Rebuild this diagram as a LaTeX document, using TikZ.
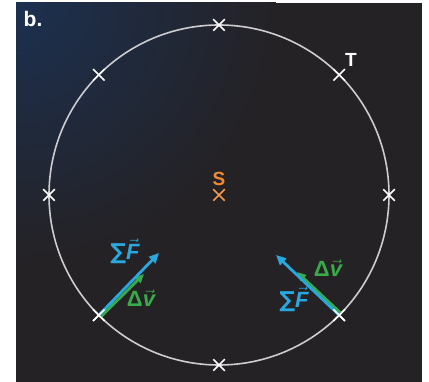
\documentclass[tikz,border=0pt]{standalone}
\usepackage{amsmath}
\usepackage{fontspec}
\setmainfont{Liberation Sans}
\setsansfont{Liberation Sans}
\newfontfamily\symfont{DejaVu Sans}
\usetikzlibrary{shapes.misc, arrows.meta, positioning, calc}
\definecolor{bgDark}{RGB}{36,34,37}
\definecolor{bgNavy}{RGB}{28,48,80}
\definecolor{ringGray}{RGB}{205,205,208}
\definecolor{forceBlue}{RGB}{41,168,224}
\definecolor{dvGreen}{RGB}{58,170,74}
\definecolor{sunOrange}{RGB}{240,138,48}
\newcommand{\netforce}{{\symfont ∑}$\vec{\text{\itshape F}}$}
\newcommand{\deltav}{Δ$\vec{\text{\itshape v}}$}

\begin{document}
\begin{tikzpicture}[
  x=1pt, y=-1pt,
  crossmark/.style={cross out, draw=white, minimum size=10pt, inner sep=0pt, line width=1.5pt},
  label/.style={font=\sffamily\bfseries\fontsize{19}{19}\selectfont},
  vlabel/.style={font=\sffamily\bfseries\fontsize{22}{22}\selectfont, inner sep=1pt},
  force/.style={line width=2.8pt, forceBlue, -{Triangle[length=10pt, width=9pt]}},
  dv/.style={line width=2.8pt, dvGreen, -{Triangle[length=9pt, width=8pt]}}
]
\useasboundingbox (0,0) rectangle (429,382);

% Background
\fill[bgDark] (16,3) rectangle (422,382);
\begin{scope}
  \clip (16,3) rectangle (422,382);
  \shade[inner color=bgNavy, outer color=bgDark] (16,3) circle (260);
\end{scope}

% Orbit
\coordinate (c) at (219,195);
\draw[ringGray, line width=1.6pt] (c) circle (170);
\foreach \a in {0,45,...,315}
  \node[crossmark] (p\a) at ($(c)+(\a:170)$) {};

% Star
\node[crossmark, draw=sunOrange!85!white] (s) at (c) {};
\node[label, text=sunOrange, above=0pt of s] {S};
\node[label, text=white] at (351,60) {T};
\node[font=\sffamily\bfseries\fontsize{21}{21}\selectfont, text=white] at (33,19) {b.};

% Vectors, left
\coordinate (fL) at (159,253);
\coordinate (vL) at (144,274);
\draw[dv] ($(p135.center)+(1.8,1.8)$) -- (vL);
\draw[force] (p135.center) -- (fL);
\node[vlabel, text=forceBlue] at (125,251) {\netforce};
\node[vlabel, text=dvGreen] at (141,298) {\deltav};

% Vectors, right
\coordinate (fR) at (276,255);
\coordinate (vR) at (297,272);
\draw[dv] ($(p45.center)+(1.8,-1.8)$) -- (vR);
\draw[force] (p45.center) -- (fR);
\node[vlabel, text=forceBlue] at (294,299) {\netforce};
\node[vlabel, text=dvGreen] at (328,268) {\deltav};

% Crosses on top of arrows
\foreach \a in {45,135}
  \node[crossmark] at (p\a) {};
\end{tikzpicture}
\end{document}
